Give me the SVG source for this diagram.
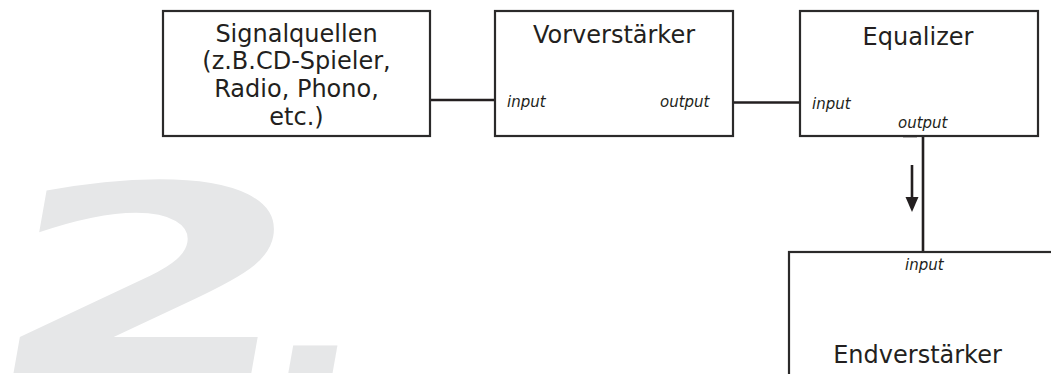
<svg xmlns="http://www.w3.org/2000/svg" width="1051" height="374" viewBox="0 0 1051 374">
  <style>
    .box { fill: #ffffff; stroke: #2b2a2a; stroke-width: 2.2; }
    .title { font-family: "DejaVu Sans", sans-serif; font-size: 24px; fill: #231f20; text-anchor: middle; }
    .port { font-family: "DejaVu Sans", sans-serif; font-size: 15px; font-style: italic; fill: #231f20; }
    .wire { stroke: #231f20; stroke-width: 2.6; fill: none; }
    .big { font-family: "DejaVu Sans", sans-serif; font-weight: bold; fill: #e6e7e8; }
  </style>
  <rect width="1051" height="374" fill="#ffffff"/>

  <text class="big" transform="translate(-22,373) skewX(-10) scale(1.72,1)" x="0" y="0" font-size="261">2<tspan font-size="146" dx="-16">.</tspan></text>

  <g id="connectors">
    <line class="wire" x1="430" y1="100" x2="495" y2="100"/>
    <line class="wire" x1="733" y1="102.5" x2="800" y2="102.5"/>
    <line class="wire" x1="923" y1="136" x2="923" y2="252"/>
    <line class="wire" x1="903" y1="136" x2="917" y2="136" stroke-width="3"/>
    <line x1="912" y1="165" x2="912" y2="198" stroke="#231f20" stroke-width="2.6"/>
    <path d="M905.5,197 L918.5,197 L912,212 Z" fill="#231f20"/>
  </g>

  <g id="signalquellen">
    <rect class="box" x="163" y="11" width="267" height="125"/>
    <text class="title" x="296.5" y="41.5">Signalquellen</text>
    <text class="title" x="296.5" y="69">(z.B.CD-Spieler,</text>
    <text class="title" x="296.5" y="97">Radio, Phono,</text>
    <text class="title" x="296.5" y="125">etc.)</text>
  </g>

  <g id="vorverstaerker">
    <rect class="box" x="495" y="11" width="238" height="125"/>
    <text class="title" x="614" y="42.5">Vorverstärker</text>
    <text class="port" x="507" y="107">input</text>
    <text class="port" x="660" y="107">output</text>
  </g>

  <g id="equalizer">
    <rect class="box" x="800" y="11" width="238" height="125"/>
    <text class="title" x="918" y="44.5">Equalizer</text>
    <text class="port" x="812" y="109">input</text>
    <text class="port" x="898" y="128">output</text>
  </g>

  <g id="endverstaerker">
    <rect class="box" x="789" y="252" width="300" height="160"/>
    <text class="port" x="905" y="270">input</text>
    <text class="title" x="917.5" y="363">Endverstärker</text>
  </g>
</svg>
